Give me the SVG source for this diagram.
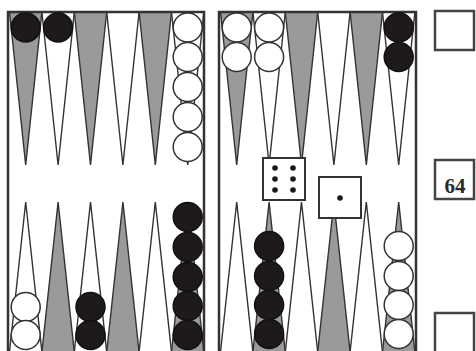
<svg xmlns="http://www.w3.org/2000/svg" width="476" height="351" viewBox="0 0 476 351">
<style>
.g{fill:#9a9a9a;stroke:#333;stroke-width:1.4}
.w{fill:#fff;stroke:#333;stroke-width:1.4}
.frame{fill:none;stroke:#333;stroke-width:2.5}
.bk{fill:#1e1a1c;stroke:#111;stroke-width:1.5}
.wh{fill:#fff;stroke:#333;stroke-width:1.5}
.die{fill:#fff;stroke:#333;stroke-width:2}
.pip{fill:#1a1a1a}
.cube{fill:#fff;stroke:#444;stroke-width:2.5}
.t{font-family:"Liberation Serif",serif;font-weight:bold;font-size:21px;fill:#2a2a2a;text-anchor:middle}
</style>
<rect width="476" height="351" fill="#fff"/>
<g id="points">
<polygon class="g" points="9.5,12 41.9,12 25.7,165"/>
<polygon class="w" points="41.9,12 74.3,12 58.1,165"/>
<polygon class="g" points="74.3,12 106.7,12 90.5,165"/>
<polygon class="w" points="106.7,12 139.1,12 122.9,165"/>
<polygon class="g" points="139.1,12 171.5,12 155.3,165"/>
<polygon class="w" points="171.5,12 203.9,12 187.7,165"/>
<polygon class="g" points="220.5,12 252.9,12 236.7,165"/>
<polygon class="w" points="252.9,12 285.3,12 269.1,165"/>
<polygon class="g" points="285.3,12 317.7,12 301.5,165"/>
<polygon class="w" points="317.7,12 350.1,12 333.9,165"/>
<polygon class="g" points="350.1,12 382.5,12 366.3,165"/>
<polygon class="w" points="382.5,12 414.9,12 398.7,165"/>
<polygon class="w" points="9.5,352 41.9,352 25.7,202"/>
<polygon class="g" points="41.9,352 74.3,352 58.1,202"/>
<polygon class="w" points="74.3,352 106.7,352 90.5,202"/>
<polygon class="g" points="106.7,352 139.1,352 122.9,202"/>
<polygon class="w" points="139.1,352 171.5,352 155.3,202"/>
<polygon class="g" points="171.5,352 203.9,352 187.7,202"/>
<polygon class="w" points="220.5,352 252.9,352 236.7,202"/>
<polygon class="g" points="252.9,352 285.3,352 269.1,202"/>
<polygon class="w" points="285.3,352 317.7,352 301.5,202"/>
<polygon class="g" points="317.7,352 350.1,352 333.9,202"/>
<polygon class="w" points="350.1,352 382.5,352 366.3,202"/>
<polygon class="g" points="382.5,352 414.9,352 398.7,202"/>
</g>
<g id="frame">
<rect class="frame" x="8" y="12" width="196" height="345"/>
<rect class="frame" x="219" y="12" width="197" height="345"/>
</g>
<g id="checkers">
<circle class="bk" cx="25.7" cy="27.5" r="14.5"/>
<circle class="bk" cx="58.1" cy="27.5" r="14.5"/>
<circle class="wh" cx="187.7" cy="27.5" r="14.5"/>
<circle class="wh" cx="187.7" cy="57" r="14.5"/>
<circle class="wh" cx="187.7" cy="87" r="14.5"/>
<circle class="wh" cx="187.7" cy="117" r="14.5"/>
<circle class="wh" cx="187.7" cy="147" r="14.5"/>
<circle class="wh" cx="236.7" cy="27.5" r="14.5"/>
<circle class="wh" cx="236.7" cy="57" r="14.5"/>
<circle class="wh" cx="269.1" cy="27.5" r="14.5"/>
<circle class="wh" cx="269.1" cy="57" r="14.5"/>
<circle class="bk" cx="398.7" cy="27.5" r="14.5"/>
<circle class="bk" cx="398.7" cy="57" r="14.5"/>
<circle class="wh" cx="25.7" cy="307" r="14.5"/>
<circle class="wh" cx="25.7" cy="335" r="14.5"/>
<circle class="bk" cx="90.5" cy="307" r="14.5"/>
<circle class="bk" cx="90.5" cy="335" r="14.5"/>
<circle class="bk" cx="187.7" cy="217" r="14.5"/>
<circle class="bk" cx="187.7" cy="247" r="14.5"/>
<circle class="bk" cx="187.7" cy="277" r="14.5"/>
<circle class="bk" cx="187.7" cy="306" r="14.5"/>
<circle class="bk" cx="187.7" cy="335" r="14.5"/>
<circle class="bk" cx="269.1" cy="246" r="14.5"/>
<circle class="bk" cx="269.1" cy="276" r="14.5"/>
<circle class="bk" cx="269.1" cy="305" r="14.5"/>
<circle class="bk" cx="269.1" cy="334" r="14.5"/>
<circle class="wh" cx="398.7" cy="246" r="14.5"/>
<circle class="wh" cx="398.7" cy="276" r="14.5"/>
<circle class="wh" cx="398.7" cy="305" r="14.5"/>
<circle class="wh" cx="398.7" cy="334" r="14.5"/>
</g>
<g id="die1">
<rect class="die" x="263" y="158" width="42" height="42"/>
<circle class="pip" cx="275" cy="168" r="2.8"/>
<circle class="pip" cx="293" cy="168" r="2.8"/>
<circle class="pip" cx="275" cy="179" r="2.8"/>
<circle class="pip" cx="293" cy="179" r="2.8"/>
<circle class="pip" cx="275" cy="190" r="2.8"/>
<circle class="pip" cx="293" cy="190" r="2.8"/>
</g>
<g id="die2">
<rect class="die" x="319" y="177" width="42" height="41"/>
<circle class="pip" cx="340" cy="198" r="2.8"/>
</g>
<g id="cube-top"><rect class="cube" x="435" y="11" width="39" height="39"/></g>
<g id="cube-mid"><rect class="cube" x="435" y="160" width="39" height="39"/><text class="t" x="455" y="193">64</text></g>
<g id="cube-bot"><rect class="cube" x="435" y="313" width="39" height="45"/></g>
</svg>
